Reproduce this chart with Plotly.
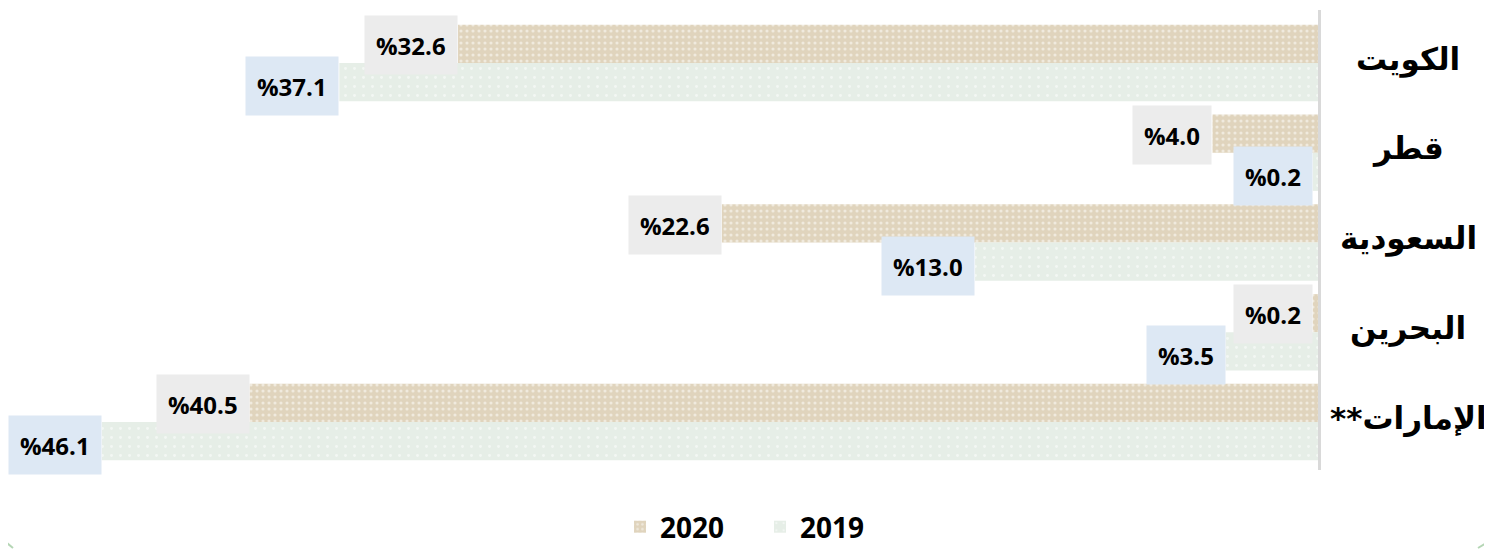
import plotly.graph_objects as go

# -----------------------------------------------------
# Data
# -----------------------------------------------------
countries = ["الكويت", "قطر", "السعودية", "البحرين", "الإمارات**"]
values_2020 = [32.6, 4.0, 22.6, 0.2, 40.5]
values_2019 = [37.1, 0.2, 13.0, 3.5, 46.1]
series_names = ["2020", "2019"]

# page has an 8px body margin, so the figure is slightly smaller than the window
W, H = 1484, 541
ML, MR, MT, MB = 0, 174, 2, 79
plot_w = W - ML - MR
plot_h = H - MT - MB

fig = go.Figure()

fig.add_trace(go.Bar(
    y=countries, x=values_2020, name=series_names[0], orientation="h",
    marker=dict(color="#e0d4bd", line=dict(width=0),
                pattern=dict(shape=".", fgcolor="#ffffff", bgcolor="#e0d4bd",
                             size=6, solidity=0.22)),
    hoverinfo="x+y",
))
fig.add_trace(go.Bar(
    y=countries, x=values_2019, name=series_names[1], orientation="h",
    marker=dict(color="#e6eee7", line=dict(width=0),
                pattern=dict(shape=".", fgcolor="#ffffff", bgcolor="#e6eee7",
                             size=9, solidity=0.08)),
    hoverinfo="x+y",
))

# -----------------------------------------------------
# Value labels in boxes
# -----------------------------------------------------
label_font = dict(family="Open Sans, DejaVu Sans", size=24, color="#000000")
for cat, v in zip(countries, values_2020):
    fig.add_annotation(x=v, y=cat, xref="x", yref="y", text=f"<b>%{v:.1f}</b>",
                       showarrow=False, xanchor="right", yanchor="middle",
                       yshift=18, bgcolor="#ececec", borderpad=11, height=36,
                       font=label_font)
for cat, v in zip(countries, values_2019):
    fig.add_annotation(x=v, y=cat, xref="x", yref="y", text=f"<b>%{v:.1f}</b>",
                       showarrow=False, xanchor="right", yanchor="middle",
                       yshift=-23, bgcolor="#dde8f4", borderpad=11, height=36,
                       font=label_font)

# -----------------------------------------------------
# Category labels (centred, right of the axis)
# RLM keeps the asterisks on the left side of the Arabic word
# -----------------------------------------------------
for cat in countries:
    fig.add_annotation(x=1 + 90 / plot_w, y=cat, xref="paper", yref="y",
                       text=f"<b>{cat}\u200f</b>", showarrow=False,
                       xanchor="center", yanchor="middle", yshift=4,
                       font=dict(family="DejaVu Sans", size=31, color="#000000"))

# faint frame corners at the bottom of the picture
for x0, y0, x1, y1 in [(-6, 531, 5, 540), (1470, 540, 1483, 532)]:
    fig.add_shape(type="line", xref="paper", yref="paper",
                  x0=x0 / plot_w, x1=x1 / plot_w,
                  y0=(MT + plot_h - y0) / plot_h, y1=(MT + plot_h - y1) / plot_h,
                  line=dict(color="#b5d6b5", width=2))

fig.update_layout(
    width=W, height=H,
    margin=dict(l=ML, r=MR, t=MT, b=MB, autoexpand=False),
    paper_bgcolor="white", plot_bgcolor="white",
    barmode="group", bargap=0.15, bargroupgap=0,
    showlegend=True,
    legend=dict(orientation="h", x=612 / plot_w, xanchor="left",
                y=-57 / plot_h, yanchor="middle",
                font=dict(family="Open Sans, DejaVu Sans", size=28,
                          color="#000000"),
                entrywidth=95, entrywidthmode="pixels",
                itemwidth=30, traceorder="normal"),
    xaxis=dict(range=[49.66, 0], showgrid=False, zeroline=False,
               showticklabels=False, showline=False),
    yaxis=dict(autorange="reversed", side="right", showgrid=False,
               zeroline=False, showticklabels=False, ticks="",
               showline=True, linecolor="#d9d9d9", linewidth=3),
)

fig.for_each_trace(lambda t: t.update(name=f"<b>{t.name}</b>"))

fig.write_html("out.html")
